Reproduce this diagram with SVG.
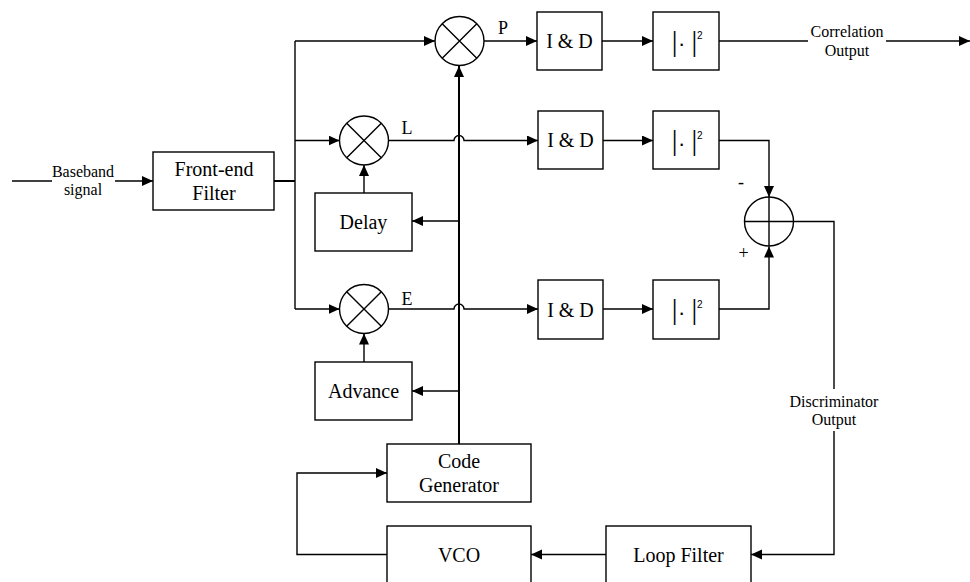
<svg xmlns="http://www.w3.org/2000/svg" width="970" height="582" viewBox="0 0 970 582">
<style>
.box{fill:#fff;stroke:#000;stroke-width:1.4}
.ln{fill:none;stroke:#000;stroke-width:1.4}
.thk{fill:none;stroke:#000;stroke-width:2}
.t{font-family:"Liberation Serif","Times New Roman",serif;font-size:20px;text-anchor:middle;fill:#000}
.s{font-family:"Liberation Serif","Times New Roman",serif;font-size:16px;text-anchor:middle;fill:#000}
.lab{font-family:"Liberation Serif","Times New Roman",serif;font-size:18px;text-anchor:middle;fill:#000}
.abs{font-family:"Liberation Sans",Arial,sans-serif;font-size:28px;fill:#000}
.dot{font-family:"Liberation Sans",Arial,sans-serif;font-size:22px;fill:#000}
.sup{font-family:"Liberation Sans",Arial,sans-serif;font-size:10px;fill:#000}
</style>
<defs>
<marker id="ah" markerUnits="userSpaceOnUse" markerWidth="12" markerHeight="11" refX="11" refY="5" orient="auto">
<path d="M0,0 L11,5 L0,10 Z" fill="#000"/>
</marker>
</defs>

<g id="connectors">
<path class="ln" d="M12,181 H52"/>
<path class="ln" d="M115,181 H153" marker-end="url(#ah)"/>
<path class="thk" d="M274,181 H295"/>
<path class="ln" d="M295,41 V309"/>
<path class="ln" d="M295,41 H435" marker-end="url(#ah)"/>
<path class="ln" d="M295,140.5 H339.5" marker-end="url(#ah)"/>
<path class="ln" d="M295,309 H339.5" marker-end="url(#ah)"/>
<path class="ln" d="M484,41 H537" marker-end="url(#ah)"/>
<path class="ln" d="M388.5,140.5 H454 A5,5 0 0 1 464,140.5 H538" marker-end="url(#ah)"/>
<path class="ln" d="M388.5,309 H454 A5,5 0 0 1 464,309 H538" marker-end="url(#ah)"/>
<path class="thk" d="M459,444 V66" marker-end="url(#ah)"/>
<path class="ln" d="M459,221 H412" marker-end="url(#ah)"/>
<path class="ln" d="M459,391 H412" marker-end="url(#ah)"/>
<path class="ln" d="M364,193 V165" marker-end="url(#ah)"/>
<path class="ln" d="M364,362 V333.5" marker-end="url(#ah)"/>
<path class="ln" d="M602,41 H653" marker-end="url(#ah)"/>
<path class="ln" d="M603,140.5 H653" marker-end="url(#ah)"/>
<path class="ln" d="M603,309 H653" marker-end="url(#ah)"/>
<path class="ln" d="M719,41 H808"/>
<path class="ln" d="M886,41 H970" marker-end="url(#ah)"/>
<path class="ln" d="M719,140.5 H769 V197" marker-end="url(#ah)"/>
<path class="ln" d="M719,309 H769 V246.5" marker-end="url(#ah)"/>
<path class="ln" d="M793.5,221.5 H834 V389"/>
<path class="ln" d="M834,431 V554.5 H751" marker-end="url(#ah)"/>
<path class="ln" d="M606,554.5 H531" marker-end="url(#ah)"/>
<path class="ln" d="M387,554.5 H297 V473 H387" marker-end="url(#ah)"/>
</g>

<g id="input-label">
<text class="s" x="83" y="177">Baseband</text>
<text class="s" x="83" y="195">signal</text>
</g>

<g id="frontend">
<rect class="box" x="153" y="152" width="121" height="58"/>
<text class="t" x="214" y="176">Front-end</text>
<text class="t" x="214" y="200">Filter</text>
</g>

<g id="mixer-p">
<circle class="box" cx="459.5" cy="41" r="24.5"/>
<path class="ln" d="M442.2,23.7 L476.8,58.3 M476.8,23.7 L442.2,58.3"/>
<text class="lab" x="503" y="34">P</text>
</g>
<g id="mixer-l">
<circle class="box" cx="364" cy="140.5" r="24.5"/>
<path class="ln" d="M346.7,123.2 L381.3,157.8 M381.3,123.2 L346.7,157.8"/>
<text class="lab" x="407" y="134">L</text>
</g>
<g id="mixer-e">
<circle class="box" cx="364" cy="309" r="24.5"/>
<path class="ln" d="M346.7,291.7 L381.3,326.3 M381.3,291.7 L346.7,326.3"/>
<text class="lab" x="407" y="305">E</text>
</g>

<g id="delay">
<rect class="box" x="315" y="193" width="97" height="58"/>
<text class="t" x="363.5" y="229">Delay</text>
</g>
<g id="advance">
<rect class="box" x="315" y="362" width="97" height="58"/>
<text class="t" x="363.5" y="398">Advance</text>
</g>

<g id="id-p">
<rect class="box" x="537" y="12" width="65" height="58"/>
<text class="t" x="569.5" y="48">I &amp; D</text>
</g>
<g id="id-l">
<rect class="box" x="538" y="111" width="65" height="58"/>
<text class="t" x="570.5" y="147">I &amp; D</text>
</g>
<g id="id-e">
<rect class="box" x="538" y="280" width="65" height="59"/>
<text class="t" x="570.5" y="317">I &amp; D</text>
</g>

<g id="sq-p">
<rect class="box" x="653" y="12" width="66" height="58"/>
<text class="abs" transform="translate(0,50.5) scale(0.65,1)"><tspan x="1034.3" y="0">|</tspan><tspan x="1064.5" y="0">|</tspan></text>
<text class="dot" x="678" y="51">·</text>
<text class="sup" x="697" y="39">2</text>
</g>
<g id="sq-l">
<rect class="box" x="653" y="111" width="66" height="58"/>
<text class="abs" transform="translate(0,150) scale(0.65,1)"><tspan x="1034.3" y="0">|</tspan><tspan x="1064.5" y="0">|</tspan></text>
<text class="dot" x="678" y="150.5">·</text>
<text class="sup" x="697" y="138.5">2</text>
</g>
<g id="sq-e">
<rect class="box" x="653" y="280" width="66" height="59"/>
<text class="abs" transform="translate(0,319) scale(0.65,1)"><tspan x="1034.3" y="0">|</tspan><tspan x="1064.5" y="0">|</tspan></text>
<text class="dot" x="678" y="319.5">·</text>
<text class="sup" x="697" y="307.5">2</text>
</g>

<g id="corr-label">
<text class="s" x="847" y="37">Correlation</text>
<text class="s" x="847" y="56">Output</text>
</g>

<g id="sum">
<circle class="box" cx="769" cy="221.5" r="24.5"/>
<path class="ln" d="M744.5,221.5 H793.5 M769,197 V246"/>
<text class="lab" x="741" y="188">-</text>
<text class="lab" x="743.5" y="259">+</text>
</g>

<g id="disc-label">
<text class="s" x="834" y="407">Discriminator</text>
<text class="s" x="834" y="425">Output</text>
</g>

<g id="codegen">
<rect class="box" x="387" y="444" width="144" height="58"/>
<text class="t" x="459" y="468">Code</text>
<text class="t" x="459" y="492">Generator</text>
</g>
<g id="vco">
<rect class="box" x="387" y="526" width="144" height="58"/>
<text class="t" x="459" y="562">VCO</text>
</g>
<g id="loopfilter">
<rect class="box" x="606" y="526" width="145" height="58"/>
<text class="t" x="678.5" y="562">Loop Filter</text>
</g>
</svg>
